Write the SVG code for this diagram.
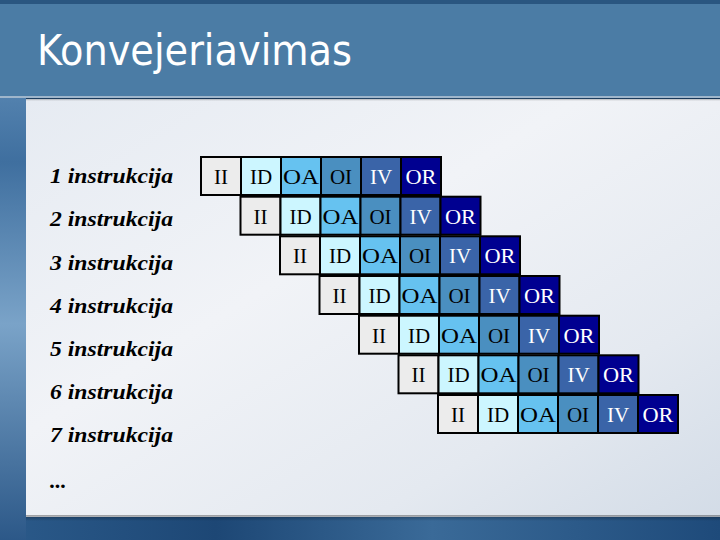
<svg xmlns="http://www.w3.org/2000/svg" width="720" height="540" viewBox="0 0 720 540">
<defs>
<linearGradient id="bg" x1="0" y1="0" x2="1" y2="0">
<stop offset="0" stop-color="#2b5a8a"/><stop offset="0.3" stop-color="#1d4775"/><stop offset="0.6" stop-color="#3a6a98"/><stop offset="1" stop-color="#1e4a7a"/>
</linearGradient>
<linearGradient id="strip" x1="0" y1="0" x2="0" y2="1">
<stop offset="0" stop-color="#6f9cc4"/><stop offset="0.3" stop-color="#3f6f9f"/><stop offset="0.6" stop-color="#7aa3c8"/><stop offset="1" stop-color="#2c5888"/>
</linearGradient>
<linearGradient id="panel" x1="0" y1="0" x2="1" y2="1">
<stop offset="0" stop-color="#e6ebf2"/><stop offset="0.4" stop-color="#f1f3f7"/><stop offset="0.75" stop-color="#e4e9f0"/><stop offset="1" stop-color="#d3dce7"/>
</linearGradient>
<linearGradient id="shadow" x1="0" y1="0" x2="0" y2="1">
<stop offset="0" stop-color="#000" stop-opacity="0.35"/><stop offset="1" stop-color="#000" stop-opacity="0"/>
</linearGradient>
<style>
.c{stroke:#000;stroke-width:2}
.ii{fill:#ececec}.id{fill:#ccf6ff}.oa{fill:#66c2f0}.oi{fill:#4a8fc0}.iv{fill:#3a64a8}.or{fill:#000090}
.t{font-family:"Liberation Serif","Times New Roman",serif;font-size:21px;text-anchor:middle}
.tb{fill:#000}.tw{fill:#fff}
.lbl{font-family:"Liberation Serif","Times New Roman",serif;font-size:22px;font-style:italic;font-weight:bold;fill:#000}
</style>
<g id="row">
<rect class="c ii" x="0" y="0" width="40" height="38"/>
<rect class="c id" x="40" y="0" width="40" height="38"/>
<rect class="c oa" x="80" y="0" width="40" height="38"/>
<rect class="c oi" x="120" y="0" width="40" height="38"/>
<rect class="c iv" x="160" y="0" width="40" height="38"/>
<rect class="c or" x="200" y="0" width="40" height="38"/>
<text class="t tb" x="20" y="27">II</text>
<text class="t tb" x="60" y="27">ID</text>
<text class="t tb" x="100" y="27" textLength="36" lengthAdjust="spacingAndGlyphs">OA</text>
<text class="t tb" x="140" y="27">OI</text>
<text class="t tw" x="180" y="27">IV</text>
<text class="t tw" x="220" y="27" textLength="31" lengthAdjust="spacingAndGlyphs">OR</text>
</g>
</defs>
<rect x="0" y="0" width="720" height="540" fill="url(#bg)"/>
<rect x="0" y="0" width="26" height="540" fill="url(#strip)"/>
<rect x="26" y="99" width="694" height="418" fill="url(#panel)"/>
<rect x="26" y="515" width="694" height="6" fill="url(#shadow)"/>
<rect x="0" y="0" width="720" height="4" fill="#2a5680"/>
<rect x="0" y="4" width="720" height="92" fill="#4b7ca5"/>
<rect x="0" y="96" width="720" height="2" fill="#9fb6cb"/>
<rect x="26" y="98" width="694" height="3" fill="url(#shadow)"/>
<g id="title"><text x="37" y="65" font-family="'DejaVu Sans Condensed','Liberation Sans',sans-serif" font-size="42" fill="#fff" textLength="315" lengthAdjust="spacingAndGlyphs">Konvejeriavimas</text></g>
<g id="labels">
<text class="lbl" x="50" y="183" textLength="123" lengthAdjust="spacingAndGlyphs">1 instrukcija</text>
<text class="lbl" x="50" y="226" textLength="123" lengthAdjust="spacingAndGlyphs">2 instrukcija</text>
<text class="lbl" x="50" y="270" textLength="123" lengthAdjust="spacingAndGlyphs">3 instrukcija</text>
<text class="lbl" x="50" y="313" textLength="123" lengthAdjust="spacingAndGlyphs">4 instrukcija</text>
<text class="lbl" x="50" y="356" textLength="123" lengthAdjust="spacingAndGlyphs">5 instrukcija</text>
<text class="lbl" x="50" y="399" textLength="123" lengthAdjust="spacingAndGlyphs">6 instrukcija</text>
<text class="lbl" x="50" y="442" textLength="123" lengthAdjust="spacingAndGlyphs">7 instrukcija</text>
<text class="lbl" x="50" y="488">...</text>
</g>
<g id="row1"><use href="#row" x="201" y="157"/></g>
<g id="row2"><use href="#row" x="240.5" y="196.7"/></g>
<g id="row3"><use href="#row" x="280" y="236.3"/></g>
<g id="row4"><use href="#row" x="319.5" y="276"/></g>
<g id="row5"><use href="#row" x="359" y="315.7"/></g>
<g id="row6"><use href="#row" x="398.5" y="355.3"/></g>
<g id="row7"><use href="#row" x="438" y="395"/></g>
<g id="connectors"/>
</svg>
